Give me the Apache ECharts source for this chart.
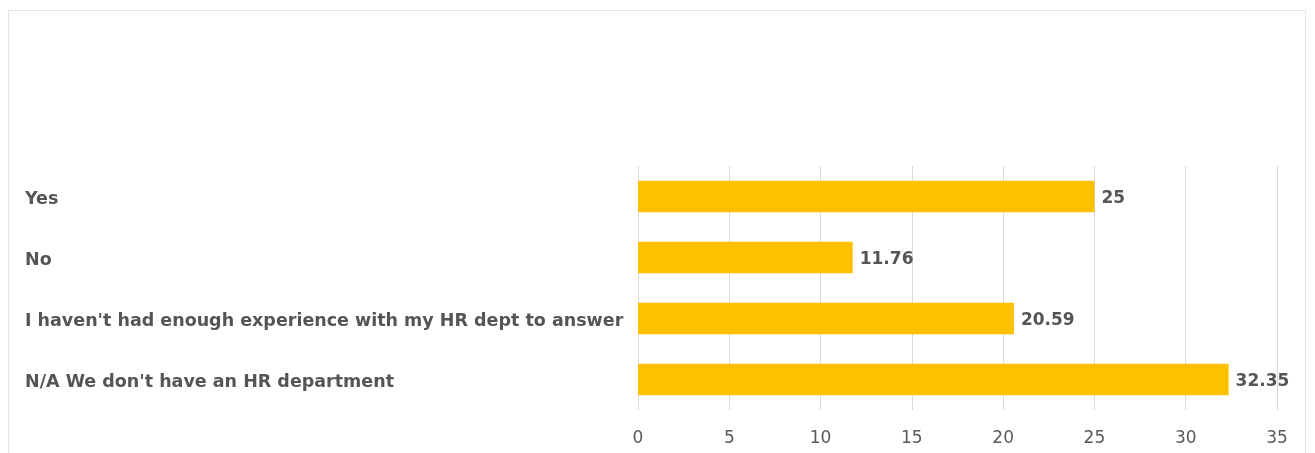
<!DOCTYPE html>
<html>
<head>
<meta charset="utf-8">
<script src="https://cdn.jsdelivr.net/npm/echarts@6/dist/echarts.min.js"></script>
<style>
html,body{margin:0;padding:0;background:#fff;}
#chart{width:1315px;height:453px;}
</style>
</head>
<body>
<div id="chart"></div>
<script>
// Survey answers, listed top to bottom
const categories = [
  "Yes",
  "No",
  "I haven't had enough experience with my HR dept to answer",
  "N/A We don't have an HR department"
];
const values = [25, 11.76, 20.59, 32.35];
const xTicks = [0, 5, 10, 15, 20, 25, 30, 35];

const chart = echarts.init(document.getElementById('chart'), null, {renderer: 'canvas'});
const font = "'DejaVu Sans', sans-serif";

chart.setOption({
  animation: false,
  graphic: [{
    type: 'rect',
    shape: {x: 8.5, y: 10.5, width: 1297, height: 460},
    style: {fill: 'none', stroke: '#e6e6e6', lineWidth: 1}
  }],
  grid: {left: 638, right: 38, top: 166, bottom: 43, containLabel: false},
  xAxis: {
    type: 'value',
    min: 0, max: 35, interval: 5,
    axisLine: {show: false},
    axisTick: {show: false},
    splitLine: {show: true, lineStyle: {color: '#d9d9d9', width: 1}},
    axisLabel: {
      color: '#595959', fontFamily: font, fontSize: 17, margin: 20,
      formatter: v => xTicks.includes(v) ? String(v) : ''
    }
  },
  yAxis: {
    type: 'category',
    data: categories,
    inverse: true,
    axisLine: {show: false},
    axisTick: {show: false},
    splitLine: {show: false},
    axisLabel: {
      align: 'left', margin: 613,
      formatter: v => '{c|' + v + '}',
      rich: {
        c: {
          color: '#555555', fontFamily: font, fontSize: 17.5, fontWeight: 'bold',
          padding: [6, 0, 0, 0]
        }
      }
    }
  },
  series: [{
    type: 'bar',
    data: values,
    barWidth: '52%',
    itemStyle: {color: '#FFC000'},
    label: {
      show: true, position: 'right', distance: 7, offset: [0, 2],
      color: '#555555', fontFamily: font, fontSize: 17, fontWeight: 'bold'
    }
  }]
});
</script>
</body>
</html>
